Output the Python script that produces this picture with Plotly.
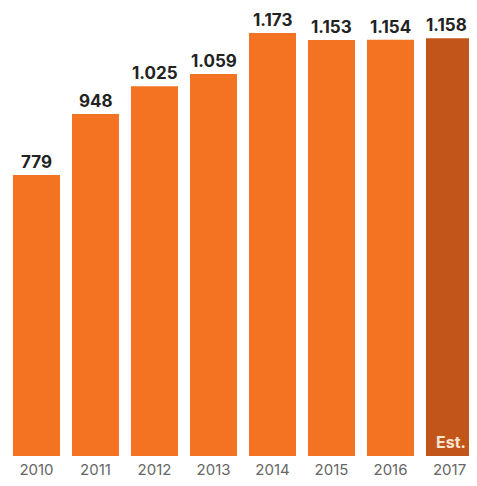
import plotly.graph_objects as go

years = ["2010", "2011", "2012", "2013", "2014", "2015", "2016", "2017"]
values = [779, 948, 1025, 1059, 1173, 1153, 1154, 1158]
labels = ["779", "948", "1.025", "1.059", "1.173", "1.153", "1.154", "1.158"]
colors = ["#F47322"] * 7 + ["#C2561A"]

FONT = "Inter, Open Sans, sans-serif"

fig = go.Figure(go.Bar(
    x=years, y=values,
    marker=dict(color=colors, line=dict(width=0)),
    hoverinfo="skip",
))
for i, (v, lab) in enumerate(zip(values, labels)):
    fig.add_annotation(x=i, y=v, xref="x", yref="y", text="<b>" + lab + "</b>",
                       showarrow=False, yanchor="bottom", yshift=1,
                       xshift=-3 if i == len(values) - 1 else 0,
                       font=dict(family=FONT, size=17, color="#222222"))
fig.add_annotation(x=len(years) - 1, y=0, xref="x", yref="y", text="<b>Est.</b>",
                   showarrow=False, yanchor="bottom", yshift=2, xshift=1,
                   font=dict(family=FONT, size=16, color="#FBE3D2"))
fig.update_layout(
    width=469, height=470,
    margin=dict(l=0, r=0, t=0, b=22),
    paper_bgcolor="white", plot_bgcolor="white",
    bargap=0.203, showlegend=False,
)
fig.update_xaxes(type="category", range=[-0.483, 7.466], showgrid=False,
                 showline=False, ticks="", ticklabelstandoff=3,
                 tickfont=dict(family=FONT, size=15, color="#666666"))
fig.update_yaxes(range=[0, 1242], visible=False, showgrid=False)
fig.write_html("out.html")
